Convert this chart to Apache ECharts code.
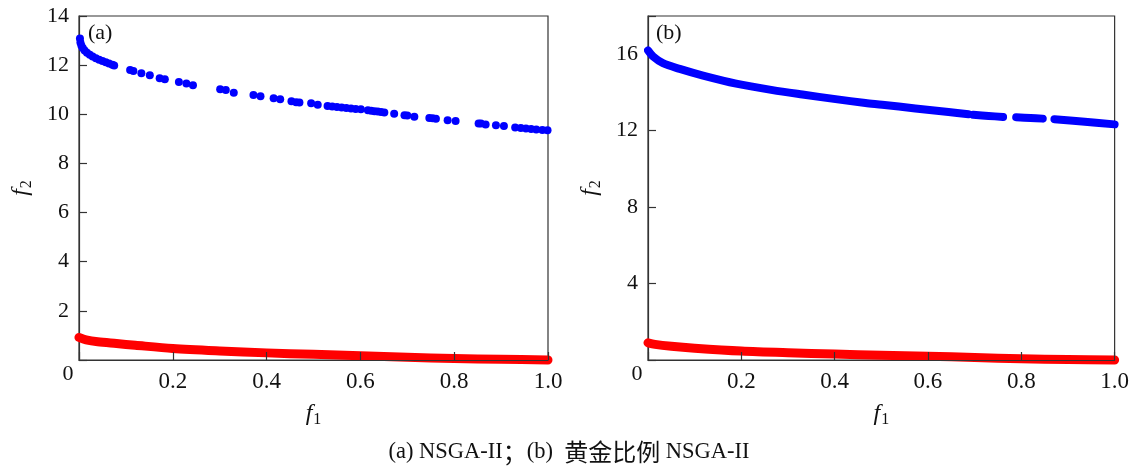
<!DOCTYPE html>
<html>
<head>
<meta charset="utf-8">
<script src="https://cdn.jsdelivr.net/npm/echarts@6/dist/echarts.min.js"></script>
<style>
  html, body { margin: 0; padding: 0; background: #fff; }
  #chart { width: 1132px; height: 468px; }
</style>
</head>
<body>
<div id="chart"></div>
<script>
// Panel (a): NSGA-II Pareto front, upper branch (individual solutions)
const frontAUpper = [
  [0.002, 13.08], [0.003, 12.92], [0.005, 12.80], [0.008, 12.70], [0.012, 12.60],
  [0.017, 12.50], [0.023, 12.42], [0.029, 12.35], [0.036, 12.28], [0.043, 12.22],
  [0.050, 12.17], [0.057, 12.12], [0.064, 12.07], [0.071, 12.02], [0.075, 11.99],
  [0.109, 11.80], [0.116, 11.76], [0.133, 11.67], [0.151, 11.59], [0.172, 11.47],
  [0.183, 11.43], [0.213, 11.31], [0.229, 11.25], [0.243, 11.18], [0.301, 11.02],
  [0.313, 10.99], [0.330, 10.88], [0.372, 10.78], [0.387, 10.73], [0.415, 10.65],
  [0.429, 10.61], [0.453, 10.53], [0.463, 10.49], [0.470, 10.48], [0.495, 10.45],
  [0.509, 10.39], [0.530, 10.34], [0.540, 10.32], [0.550, 10.30], [0.560, 10.28],
  [0.570, 10.26], [0.580, 10.24], [0.590, 10.22], [0.601, 10.20], [0.616, 10.16],
  [0.623, 10.14], [0.630, 10.12], [0.637, 10.11], [0.644, 10.09], [0.651, 10.07],
  [0.672, 10.02], [0.694, 9.96], [0.700, 9.95], [0.715, 9.90], [0.747, 9.85],
  [0.754, 9.84], [0.761, 9.82], [0.786, 9.76], [0.803, 9.73], [0.852, 9.63],
  [0.857, 9.62], [0.867, 9.58], [0.889, 9.55], [0.906, 9.52], [0.930, 9.46],
  [0.942, 9.44], [0.953, 9.42], [0.964, 9.40], [0.975, 9.38], [0.988, 9.36],
  [0.999, 9.35]
];

// Panel (a): lower branch (dense band)
const frontALower = [
  [0.000, 0.92], [0.015, 0.82], [0.040, 0.74], [0.080, 0.67], [0.120, 0.60],
  [0.200, 0.47], [0.300, 0.37], [0.400, 0.29], [0.500, 0.23], [0.600, 0.17],
  [0.700, 0.11], [0.800, 0.06], [0.900, 0.03], [1.000, 0.00]
];

// Panel (b): golden-ratio NSGA-II, upper branch split into its dense runs
const frontBUpperRuns = [
  [[0.000, 16.20], [0.011, 15.88], [0.032, 15.53], [0.068, 15.23], [0.118, 14.88],
   [0.189, 14.46], [0.267, 14.12], [0.331, 13.89], [0.402, 13.65], [0.466, 13.45],
   [0.502, 13.36], [0.573, 13.16], [0.644, 12.98], [0.687, 12.86]],
  [[0.697, 12.83], [0.730, 12.77], [0.761, 12.72]],
  [[0.789, 12.70], [0.820, 12.66], [0.846, 12.63]],
  [[0.871, 12.60], [0.930, 12.48], [1.000, 12.33]]
];

// Panel (b): lower branch
const frontBLower = [
  [0.000, 0.90], [0.015, 0.82], [0.050, 0.72], [0.100, 0.62], [0.200, 0.47],
  [0.300, 0.38], [0.400, 0.31], [0.500, 0.25], [0.600, 0.20], [0.700, 0.13],
  [0.800, 0.06], [0.900, 0.02], [1.000, 0.00]
];

const panelTags = ['(a)', '(b)'];
// caption pieces: Latin runs and CJK runs
const captionParts = [
  ['a', '(a) NSGA-II'], ['c', '；'], ['a', '(b)  '], ['c', '黄金比例'], ['a', ' NSGA-II']
];
const xTickStep = 0.2;
const yRangeA = { max: 14, step: 2 };
const yRangeB = { max: 18, step: 4, lastLabel: 16 };

const SERIF = "'Liberation Serif', 'Times New Roman', serif";
const CJK = "'Noto Sans CJK SC', sans-serif";
const INK = '#111';
const FRAME = '#333';
const BLUE = '#0000ff';
const RED = '#ff0000';

const grids = [
  { left: 79, top: 16, width: 469, height: 344 },
  { left: 648, top: 16, width: 469, height: 344 }
];

const nameRich = {
  i: { fontFamily: SERIF, fontStyle: 'italic', fontSize: 24, color: INK },
  s: { fontFamily: SERIF, fontSize: 16, color: INK, padding: [12, 0, 0, 1] }
};

function xAxisFor(idx) {
  return {
    type: 'value', gridIndex: idx, min: 0, max: 1, interval: xTickStep, z: 5,
    name: '{i|f}{s|1}', nameLocation: 'middle', nameGap: 40,
    nameTextStyle: { color: INK, rich: nameRich },
    axisLine: { show: true, lineStyle: { color: FRAME, width: 1.2 } },
    axisTick: { show: true, inside: true, length: 8, lineStyle: { color: FRAME, width: 1.2 } },
    axisLabel: {
      fontFamily: SERIF, fontSize: 23, color: INK, margin: 10,
      formatter: v => (v === 0 ? '' : v.toFixed(1))
    },
    splitLine: { show: false }
  };
}

function yAxisFor(idx, range) {
  return {
    type: 'value', gridIndex: idx, min: 0, max: range.max, interval: range.step,
    name: '{i|f}{s|2}', nameLocation: 'middle', nameGap: 44, nameRotate: 90,
    nameTextStyle: { color: INK, rich: nameRich },
    axisLine: { show: true, lineStyle: { color: FRAME, width: 1.2 } },
    axisTick: { show: true, inside: true, length: 8, lineStyle: { color: FRAME, width: 1.2 } },
    axisLabel: {
      fontFamily: SERIF, fontSize: 22, color: INK, margin: 10,
      formatter: v => (v === 0 || (range.lastLabel && v > range.lastLabel) ? '' : String(v))
    },
    splitLine: { show: false }
  };
}

const series = [
  {
    type: 'scatter', xAxisIndex: 0, yAxisIndex: 0, data: frontAUpper,
    symbol: 'circle', symbolSize: 8, itemStyle: { color: BLUE, opacity: 1 }, clip: false, z: 3
  },
  {
    type: 'line', xAxisIndex: 0, yAxisIndex: 0, data: frontALower, smooth: 0.3,
    showSymbol: false, clip: false, z: 2,
    lineStyle: { color: RED, width: 9, cap: 'round', join: 'round' }
  },
  ...frontBUpperRuns.map(run => ({
    type: 'line', xAxisIndex: 1, yAxisIndex: 1, data: run, smooth: 0.3,
    showSymbol: false, clip: false, z: 3,
    lineStyle: { color: BLUE, width: 8, cap: 'round', join: 'round' }
  })),
  {
    type: 'line', xAxisIndex: 1, yAxisIndex: 1, data: frontBLower, smooth: 0.3,
    showSymbol: false, clip: false, z: 2,
    lineStyle: { color: RED, width: 9, cap: 'round', join: 'round' }
  }
];

const chart = echarts.init(document.getElementById('chart'), null, { renderer: 'canvas' });
chart.setOption({
  backgroundColor: '#ffffff',
  animation: false,
  grid: grids.map(g => Object.assign({ show: true, borderColor: FRAME, borderWidth: 1.2, backgroundColor: 'transparent' }, g)),
  xAxis: [xAxisFor(0), xAxisFor(1)],
  yAxis: [yAxisFor(0, yRangeA), yAxisFor(1, yRangeB)],
  series: series,
  graphic: [
    { type: 'text', left: 88, top: 22, style: { text: panelTags[0], font: '22px ' + SERIF, fill: INK } },
    { type: 'text', left: 656, top: 22, style: { text: panelTags[1], font: '22px ' + SERIF, fill: INK } },
    { type: 'text', x: 68, y: 374, style: { text: '0', font: '22px ' + SERIF, fill: INK, align: 'center', verticalAlign: 'middle' } },
    { type: 'text', x: 637, y: 374, style: { text: '0', font: '22px ' + SERIF, fill: INK, align: 'center', verticalAlign: 'middle' } },
    {
      type: 'text', x: 569, y: 452,
      style: {
        text: captionParts.map(p => '{' + p[0] + '|' + p[1] + '}').join(''),
        align: 'center', verticalAlign: 'middle', fill: INK,
        rich: {
          a: { fontFamily: SERIF, fontSize: 22.5, fill: INK },
          c: { fontFamily: CJK, fontSize: 24, fill: INK }
        }
      }
    }
  ]
});
</script>
</body>
</html>
